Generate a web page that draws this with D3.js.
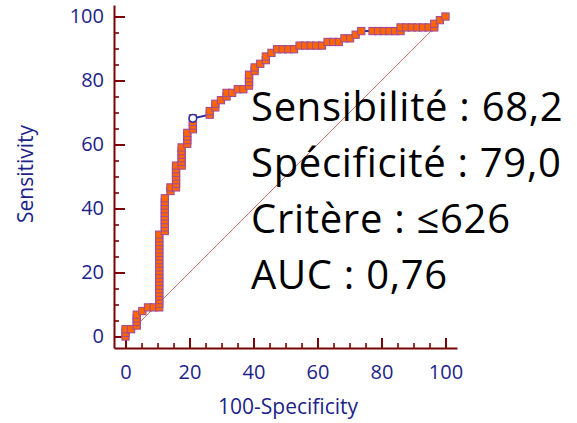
<!DOCTYPE html>
<html>
<head>
<meta charset="utf-8">
<script src="https://cdn.jsdelivr.net/npm/d3@7"></script>
<style>
  body { margin: 0; background: #fff; }
  svg { display: block; font-family: "Open Sans", sans-serif; }
</style>
</head>
<body>
<script>
// ROC curve: 100-Specificity (x) and Sensitivity (y), in %
const fpr = [
  0, 0, 0, 1.75, 3.51, 3.51, 3.51, 3.51, 5.26, 7.02, 8.77,
  10.53, 10.53, 10.53, 10.53, 10.53, 10.53, 10.53, 10.53, 10.53, 10.53, 10.53,
  10.53, 10.53, 10.53, 10.53, 10.53, 10.53, 10.53, 10.53, 10.53, 10.53,
  12.28, 12.28, 12.28, 12.28, 12.28, 12.28, 12.28, 12.28, 12.28, 12.28,
  14.04, 14.04,
  15.79, 15.79, 15.79, 15.79, 15.79, 15.79, 15.79,
  17.54, 17.54, 17.54, 17.54, 17.54, 17.54,
  19.30, 19.30, 19.30, 19.30,
  21.05, 21.05, 21.05, 21.05,
  26.32, 26.32, 28.07, 28.07, 29.82, 31.58, 31.58, 33.33, 35.09, 36.84,
  38.60, 38.60, 38.60, 38.60, 40.35, 40.35, 42.11, 43.86, 43.86, 45.61,
  47.37, 49.12, 50.88, 52.63,
  54.39, 56.14, 57.89, 59.65, 61.40,
  63.16, 64.91, 66.67, 68.42, 70.18, 71.93, 73.68,
  77.19, 78.95, 80.70, 82.46, 84.21, 85.96, 85.96,
  87.72, 89.47, 91.23, 92.98, 94.74, 96.49, 96.49, 98.25, 100
];
const sens = [
  0, 1.14, 2.27, 2.27, 3.41, 4.55, 5.68, 6.82, 7.95, 9.09, 9.09,
  9.09, 10.23, 11.36, 12.50, 13.64, 14.77, 15.91, 17.05, 18.18, 19.32, 20.45,
  21.59, 22.73, 23.86, 25.00, 26.14, 27.27, 28.41, 29.55, 30.68, 31.82,
  32.95, 34.09, 35.23, 36.36, 37.50, 38.64, 39.77, 40.91, 42.05, 43.18,
  45.45, 46.59,
  46.59, 47.73, 48.86, 50.00, 51.14, 52.27, 53.41,
  53.41, 54.55, 55.68, 56.82, 57.95, 59.09,
  60.23, 61.36, 62.50, 63.64,
  64.77, 65.91, 67.05, 68.18,
  69.32, 70.45, 71.59, 72.73, 73.86, 75.00, 76.14, 76.14, 77.27, 77.27,
  78.41, 79.55, 80.68, 81.82, 82.95, 84.09, 85.23, 86.36, 87.50, 88.64,
  89.77, 89.77, 89.77, 89.77,
  90.91, 90.91, 90.91, 90.91, 90.91,
  92.05, 92.05, 92.05, 93.18, 93.18, 94.32, 95.45,
  95.45, 95.45, 95.45, 95.45, 95.45, 95.45, 96.59,
  96.59, 96.59, 96.59, 96.59, 96.59, 96.59, 97.73, 98.86, 100
];
// optimal criterion point
const critFpr = 21.05;
const critSens = 68.18;

const majorTicks = [0, 20, 40, 60, 80, 100];
const minorTicks = [5, 10, 15, 25, 30, 35, 45, 50, 55, 65, 70, 75, 85, 90, 95];
const statLines = ["Sensibilité : 68,2", "Spécificité : 79,0", "Critère : ≤626", "AUC : 0,76"];
const xTitle = "100-Specificity";
const yTitle = "Sensitivity";

const width = 577;
const height = 423;
const axisColor = "#780505";
const labelColor = "#1c2388";

const svg = d3.select("body").append("svg")
    .attr("width", width)
    .attr("height", height);

const x = d3.scaleLinear().domain([-3.6, 103.6]).range([114, 457]);
const y = d3.scaleLinear().domain([-3.6, 103.6]).range([348, 5]);

// diagonal reference line
svg.append("line")
    .attr("x1", x(0)).attr("y1", y(0))
    .attr("x2", x(100)).attr("y2", y(100))
    .attr("stroke", "#b84848")
    .attr("stroke-opacity", 0.85)
    .attr("stroke-width", 0.9);

// minor ticks
svg.append("g")
    .attr("transform", `translate(0,${y(-3.6)})`)
    .call(d3.axisBottom(x).tickValues(minorTicks).tickSize(-5).tickFormat(""))
    .call(g => g.select(".domain").remove())
    .call(g => g.selectAll("line").attr("stroke", axisColor).attr("stroke-width", 1.6));
svg.append("g")
    .attr("transform", `translate(${x(-3.6)},0)`)
    .call(d3.axisLeft(y).tickValues(minorTicks).tickSize(-5).tickFormat(""))
    .call(g => g.select(".domain").remove())
    .call(g => g.selectAll("line").attr("stroke", axisColor).attr("stroke-width", 1.6));

// major axes
function styleAxis(g) {
    g.attr("font-family", null).attr("font-size", null);
    g.select(".domain").attr("stroke", axisColor).attr("stroke-width", 2);
    g.selectAll(".tick line").attr("stroke", axisColor).attr("stroke-width", 2);
    g.selectAll(".tick text").attr("fill", labelColor).style("font-size", "20px");
}

svg.append("g")
    .attr("transform", `translate(0,${y(-3.6)})`)
    .call(d3.axisBottom(x).tickValues(majorTicks).tickSize(-10).tickSizeOuter(0).tickPadding(17))
    .call(styleAxis);

svg.append("g")
    .attr("transform", `translate(${x(-3.6)},0)`)
    .call(d3.axisLeft(y).tickValues(majorTicks).tickSize(-11).tickSizeOuter(0).tickPadding(10))
    .call(styleAxis);

// axis titles
svg.append("text")
    .attr("x", 288)
    .attr("y", 414)
    .attr("text-anchor", "middle")
    .attr("fill", labelColor)
    .style("font-size", "21px")
    .text(xTitle);

svg.append("text")
    .attr("transform", "translate(33,174) rotate(-90)")
    .attr("text-anchor", "middle")
    .attr("fill", labelColor)
    .style("font-size", "21px")
    .text(yTitle);

// ROC curve
const points = fpr.map((f, i) => [f, sens[i]]);

const line = d3.line()
    .x(d => x(d[0]))
    .y(d => y(d[1]));

svg.append("path")
    .datum(points)
    .attr("fill", "none")
    .attr("stroke", "#2e2e9e")
    .attr("stroke-width", 2)
    .attr("d", line);

const s = 7.2;
svg.append("g")
    .selectAll("rect")
    .data(points)
    .join("rect")
    .attr("x", d => x(d[0]) - s / 2)
    .attr("y", d => y(d[1]) - s / 2)
    .attr("width", s)
    .attr("height", s)
    .attr("fill", "#ff6600")
    .attr("stroke", "#a24c96")
    .attr("stroke-width", 1.1);

// criterion marker
svg.append("circle")
    .attr("cx", x(critFpr))
    .attr("cy", y(critSens))
    .attr("r", 3.8)
    .attr("fill", "#fff")
    .attr("stroke", "#2e2e9e")
    .attr("stroke-width", 1.5);

// statistics text
svg.append("g")
    .selectAll("text")
    .data(statLines)
    .join("text")
    .attr("x", 251)
    .attr("y", (d, i) => 121 + i * 56)
    .attr("fill", "#000")
    .style("font-size", "40px")
    .style("letter-spacing", "0.7px")
    .text(d => d);
</script>
</body>
</html>
